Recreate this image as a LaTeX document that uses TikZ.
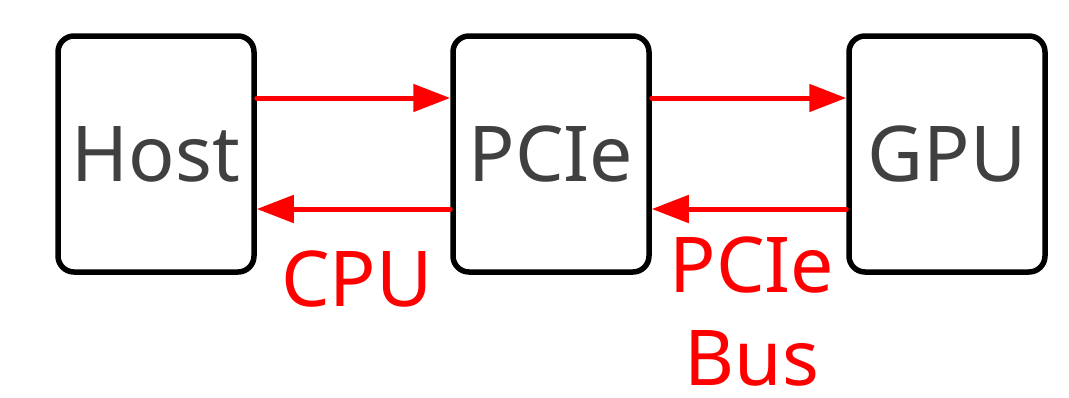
\documentclass[tikz,border=0pt]{standalone}
\usepackage{fontspec}
\setmainfont{Noto Sans}
\usetikzlibrary{arrows.meta}
\definecolor{txtgray}{HTML}{404040}
\definecolor{pured}{HTML}{FF0000}
\begin{document}
\begin{tikzpicture}[x=1pt,y=-1pt,
  box/.style={draw=black,line width=5.5pt,rounded corners=16pt,minimum width=196pt,minimum height=236pt,inner sep=0pt,text=txtgray,font=\fontsize{77}{80}\selectfont},
  arr/.style={draw=pured,line width=5pt,line cap=round,-{Triangle[length=37pt,width=27pt]}},
  lbl/.style={text=pured,font=\fontsize{77}{80}\selectfont,anchor=base,inner sep=0pt}]
\useasboundingbox (0,0) rectangle (1069,397);
\node[box] (host) at (156,154) {Host};
\node[box] (pcie) at (551,154) {PCIe};
\node[box] (gpu) at (947,154) {GPU};
\draw[arr] ([yshift=56pt]host.east) -- ([yshift=56pt]pcie.west);
\draw[arr] ([yshift=56pt]pcie.east) -- ([yshift=56pt]gpu.west);
\draw[arr] ([yshift=-55pt]pcie.west) -- ([yshift=-55pt]host.east);
\draw[arr] ([yshift=-55pt]gpu.west) -- ([yshift=-55pt]pcie.east);
\node[lbl] (cpu) at (357,306) {CPU};
\node[lbl] (pciebus) at (752,292) {PCIe};
\node[lbl] (bus) at (752,385) {Bus};
\end{tikzpicture}
\end{document}
